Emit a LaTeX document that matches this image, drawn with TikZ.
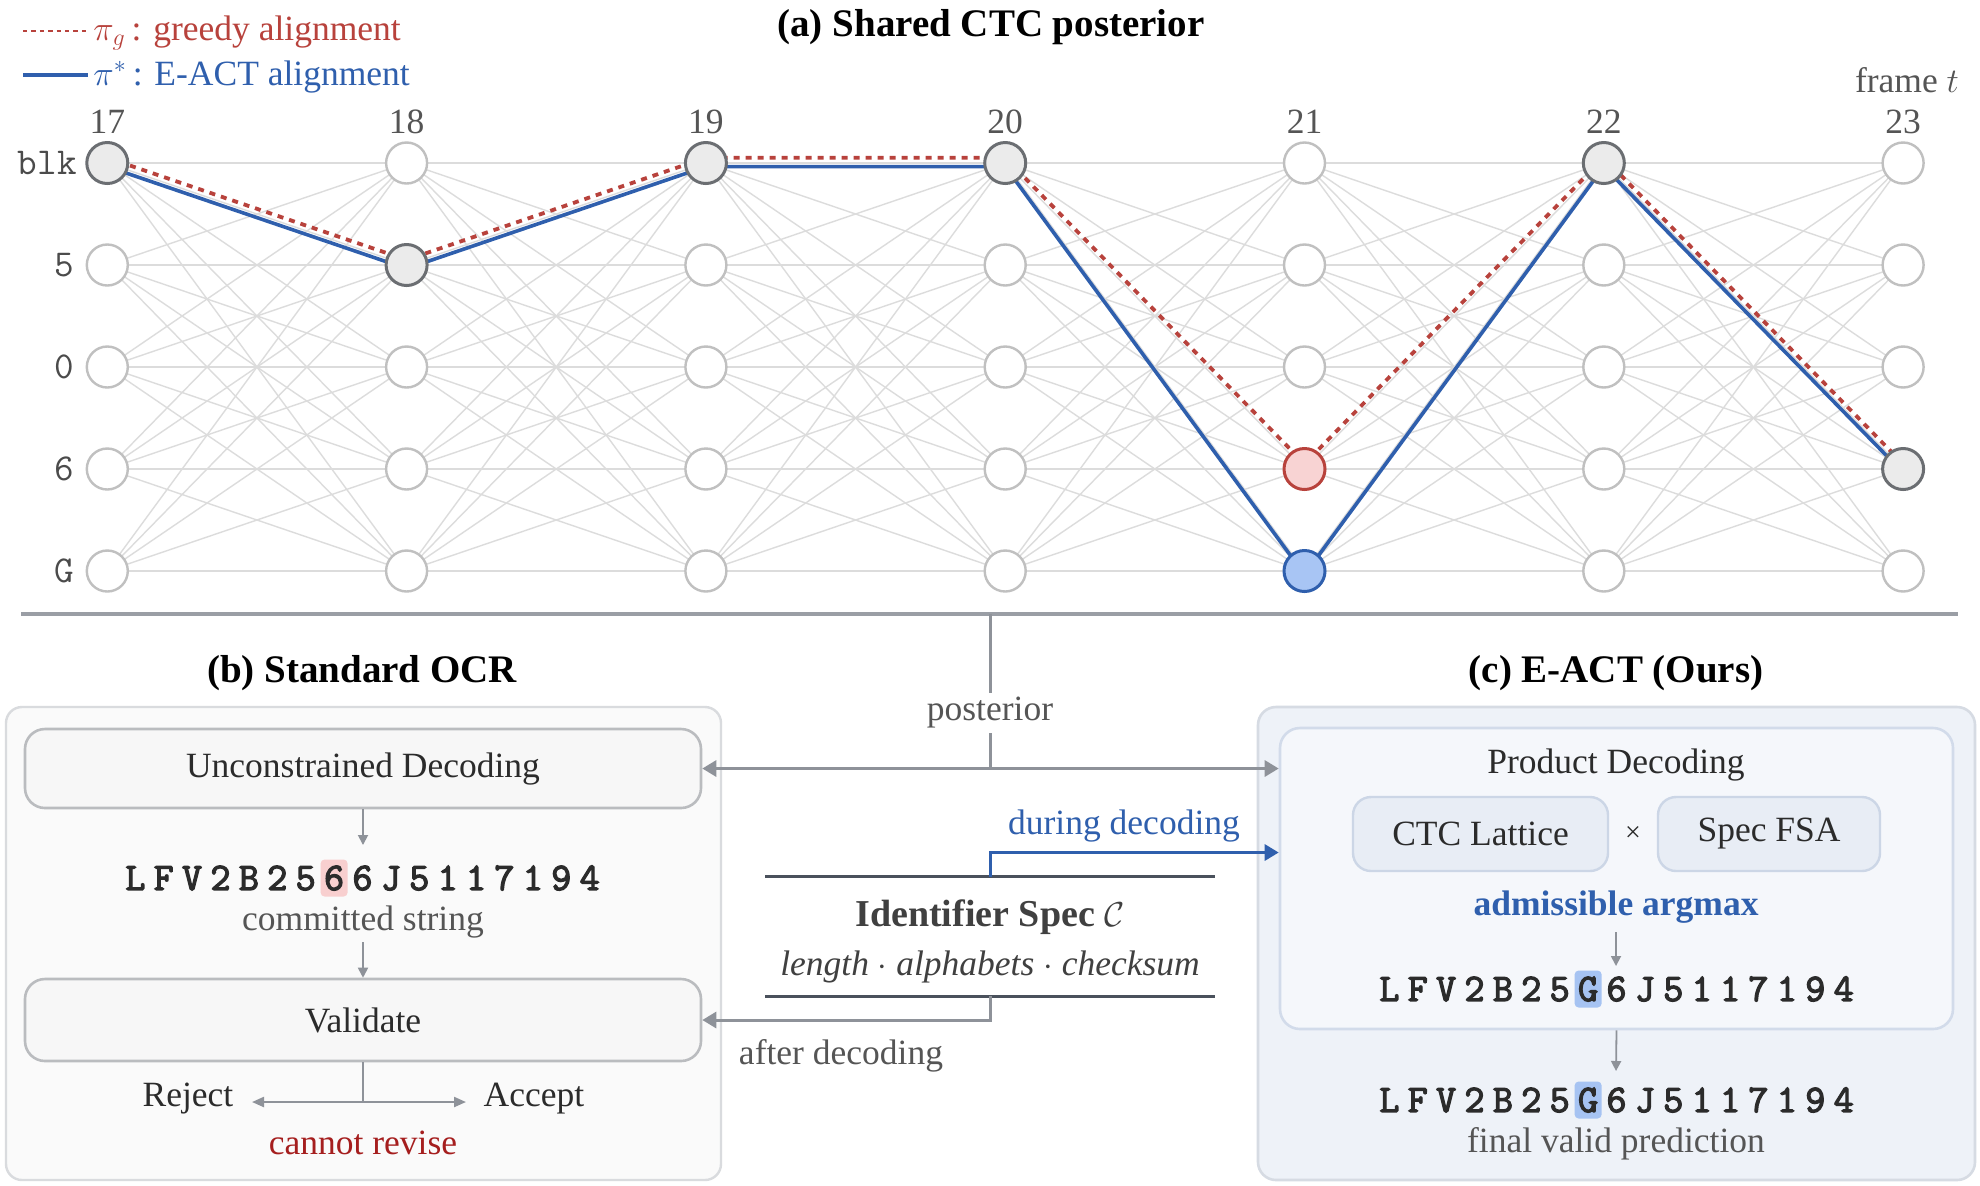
\documentclass[tikz,border=0pt]{standalone}
\usepackage{fontspec}
\setmainfont{Liberation Serif}
\newfontfamily\cmonob{Latin Modern Mono}[FakeBold=3.2]
\usetikzlibrary{arrows.meta,calc}
\pgfdeclarelayer{bg}
\pgfdeclarelayer{edges}
\pgfdeclarelayer{paths}
\pgfsetlayers{bg,edges,paths,main}

\definecolor{gred}{HTML}{B8423C}
\definecolor{eblue}{HTML}{2F5FAD}
\definecolor{latgray}{HTML}{DCDCDC}
\definecolor{nodegray}{HTML}{C0C0C0}
\definecolor{visfill}{HTML}{EBEBEB}
\definecolor{visdraw}{HTML}{6B6E72}
\definecolor{redfill}{HTML}{F8D3D3}
\definecolor{bluefill}{HTML}{A8C5F4}
\definecolor{arrgray}{HTML}{8E9299}
\definecolor{sepgray}{HTML}{9A9EA5}
\definecolor{txtdark}{HTML}{2B2B2B}
\definecolor{txtgray}{HTML}{555555}
\definecolor{darkred}{HTML}{A51E1E}
\definecolor{specline}{HTML}{4A515C}
\definecolor{bpanelfill}{HTML}{FAFAFA}
\definecolor{bpaneldraw}{HTML}{D9DBDE}
\definecolor{bboxfill}{HTML}{F7F7F7}
\definecolor{bboxdraw}{HTML}{BABCBF}
\definecolor{cpanelfill}{HTML}{EEF2F8}
\definecolor{cpaneldraw}{HTML}{D6DBE3}
\definecolor{cinnerfill}{HTML}{F5F7FB}
\definecolor{cinnerdraw}{HTML}{D2DBEA}
\definecolor{csubfill}{HTML}{E8EDF5}
\definecolor{csubdraw}{HTML}{CCD6E6}
\definecolor{hlred}{HTML}{F8CFCF}
\definecolor{hlblue}{HTML}{A6C3F2}

\expandafter\def\csname vis-0-0\endcsname{visnode}
\expandafter\def\csname vis-1-1\endcsname{visnode}
\expandafter\def\csname vis-2-0\endcsname{visnode}
\expandafter\def\csname vis-3-0\endcsname{visnode}
\expandafter\def\csname vis-4-3\endcsname{rednode}
\expandafter\def\csname vis-4-4\endcsname{bluenode}
\expandafter\def\csname vis-5-0\endcsname{visnode}
\expandafter\def\csname vis-6-3\endcsname{visnode}

\newcommand{\mstr}[1]{\mstrloop#1\relax}
\def\mstrloop#1{\ifx#1\relax\else\makebox[14.2pt]{#1}\expandafter\mstrloop\fi}

\tikzset{
  txtfont/.style={font=\fontsize{17.75pt}{21pt}\selectfont, text=txtdark, inner sep=0pt},
  txt/.style={txtfont, yshift=-2pt},
  head/.style={font=\fontsize{19.5pt}{23pt}\selectfont\bfseries, text=black, inner sep=0pt, yshift=-2pt},
  mono/.style={font=\fontsize{19.5pt}{21pt}\selectfont\cmonob, text=txtdark, inner sep=0pt},
  rowlab/.style={font=\fontsize{19pt}{21pt}\selectfont\ttfamily, text=txtdark!85, inner sep=0pt},
  collab/.style={font=\fontsize{17.75pt}{21pt}\selectfont, text=txtgray, inner sep=0pt, yshift=-1pt},
  latnode/.style={circle, minimum size=20.5pt, inner sep=0pt, draw=nodegray, line width=1.2pt, fill=white},
  visnode/.style={latnode, draw=visdraw, fill=visfill, line width=1.5pt},
  rednode/.style={latnode, draw=gred, fill=redfill, line width=1.5pt},
  bluenode/.style={latnode, draw=eblue, fill=bluefill, line width=1.5pt},
  latedge/.style={draw=latgray, line width=0.7pt},
  greedy/.style={draw=gred, line width=1.9pt, dash pattern=on 3pt off 3pt},
  eact/.style={draw=eblue, line width=1.8pt, line join=round},
  sepline/.style={draw=sepgray, line width=2pt},
  bpanel/.style={draw=bpaneldraw, fill=bpanelfill, line width=1.2pt, rounded corners=8pt},
  bbox/.style={txtfont, draw=bboxdraw, fill=bboxfill, line width=1.3pt, rounded corners=10pt},
  cpanel/.style={draw=cpaneldraw, fill=cpanelfill, line width=1.3pt, rounded corners=9pt},
  cinner/.style={draw=cinnerdraw, fill=cinnerfill, line width=1.3pt, rounded corners=10pt},
  csub/.style={txtfont, draw=csubdraw, fill=csubfill, line width=1.2pt, rounded corners=9pt},
  hlbox/.style={minimum width=13.5pt, minimum height=18.5pt, inner sep=0pt, rounded corners=2pt},
  conn/.style={draw=arrgray, line width=1.5pt},
  bigtip/.style={-{Triangle[length=7pt,width=8pt]}},
  bluearr/.style={draw=eblue, line width=1.5pt, -{Triangle[length=7pt,width=8pt]}},
  smallarr/.style={draw=arrgray, line width=0.9pt, -{Triangle[length=5pt,width=5pt]}},
  smallln/.style={draw=arrgray, line width=1.1pt},
  smallarrb/.style={draw=arrgray, line width=1.1pt, -{Triangle[length=6pt,width=5pt]}},
  specln/.style={draw=specline, line width=1.5pt},
}

\begin{document}
\begin{tikzpicture}[x=0.5pt,y=-0.5pt]
\begin{pgfonlayer}{bg}
\fill[white] (0,0) rectangle (1980,1185);
\end{pgfonlayer}
\path[use as bounding box] (0,0) rectangle (1980,1185);

% ---------- (a) lattice ----------
\node[head] (ta) at (991,23) {(a) Shared CTC posterior};

\coordinate (lg1a) at (23,31); \coordinate (lg1b) at (88,31);
\coordinate (lg2a) at (23,75); \coordinate (lg2b) at (88,75);
\draw[draw=gred, line width=1.4pt, dash pattern=on 2.2pt off 2pt] (lg1a) -- (lg1b);
\draw[draw=eblue, line width=1.6pt] (lg2a) -- (lg2b);
\node[txt, text=gred, anchor=west] (lgt1) at (93,29) {$\pi_g$\,: greedy alignment};
\node[txt, text=eblue, anchor=west] (lgt2) at (93,73) {$\pi^*$\,: E-ACT alignment};

\node[collab] (frame) at (1907,78) {frame $t$};

\foreach \i in {0,...,6}{
  \foreach \j in {0,...,4}{
    \ifcsname vis-\i-\j\endcsname \edef\st{\csname vis-\i-\j\endcsname}\else \def\st{latnode}\fi
    \node[\st] (n\i\j) at ({107.3+299.3*\i},{163+102*\j}) {};
  }
}
\foreach \i/\t in {0/17,1/18,2/19,3/20,4/21,5/22,6/23}{
  \node[collab] (col\i) at ({107.3+299.3*\i},120) {\t};
}
\node[rowlab, anchor=east] (rblk) at (77,163) {blk};
\node[rowlab] (r5) at (64,265) {5};
\node[rowlab] (r0) at (64,367) {0};
\node[rowlab] (r6) at (64,469) {6};
\node[rowlab] (rG) at (64,571) {G};

\begin{pgfonlayer}{edges}
\foreach \i in {0,...,5}{
  \pgfmathtruncatemacro{\ii}{\i+1}
  \foreach \j in {0,...,4}{
    \foreach \k in {0,...,4}{
      \draw[latedge] (n\i\j.center) -- (n\ii\k.center);
    }
  }
}
\end{pgfonlayer}

\begin{pgfonlayer}{paths}
\draw[eact] ([yshift=-1.8pt]n00.center) -- ([yshift=-1.8pt]n11.center) -- ([yshift=-1.8pt]n20.center) -- ([yshift=-1.8pt]n30.center) -- ([yshift=-1.8pt]n44.center) -- ([yshift=-1.8pt]n50.center) -- ([yshift=-1.8pt]n63.center);
\draw[greedy] ([yshift=2.6pt]n00.center) -- ([yshift=2.6pt]n11.center) -- ([yshift=2.6pt]n20.center) -- ([yshift=2.6pt]n30.center) -- ([yshift=2.6pt]n43.center) -- ([yshift=2.6pt]n50.center) -- ([yshift=2.6pt]n63.center);
\end{pgfonlayer}

\coordinate (sepL) at (21,614);
\coordinate (sepR) at (1958,614);
\draw[sepline] (sepL) -- (sepR);

% ---------- panels ----------
\node[head] (tb) at (362,669) {(b) Standard OCR};
\node[head] (tc) at (1616,669) {(c) E-ACT (Ours)};

\node[bpanel, minimum width=357.5pt, minimum height=236.5pt] (bpan) at (363.5,943.5) {};
\node[cpanel, minimum width=358.5pt, minimum height=236.5pt] (cpan) at (1616.5,943.5) {};

% (b)
\node[bbox, minimum width=338pt, minimum height=39.5pt] (ubox) at (363,768.5) {Unconstrained Decoding};
\node[bbox, minimum width=338pt, minimum height=41pt] (vbox) at (363,1020) {Validate};
\coordinate (a1e) at (363,845);
\draw[smallarr] (ubox.south) -- (a1e);
\node[hlbox, fill=hlred] (bhl) at (334.1,878) {};
\node[mono] (bstr) at (362.5,878) {\mstr{LFV2B2566J5117194}};
\node[txt, text=txtgray] (bcom) at (363,918) {committed string};
\coordinate (a2s) at (363,942);
\draw[smallarr] (a2s) -- (vbox.north);
\coordinate (vbr) at (363,1102);
\coordinate (rejtip) at (252,1102);
\coordinate (acctip) at (466,1102);
\draw[smallln] (vbox.south) -- (vbr);
\draw[smallarrb] (vbr) -- (rejtip);
\draw[smallarrb] (vbr) -- (acctip);
\node[txt] (rej) at (188,1095) {Reject};
\node[txt] (acc) at (534,1095) {Accept};
\node[txt, text=darkred] (cannot) at (363,1139) {cannot revise};

% (c)
\node[cinner, minimum width=336.5pt, minimum height=150.5pt] (inner) at (1616.5,878.5) {};
\node[txt] (prod) at (1616,761) {Product Decoding};
\node[csub, minimum width=127.5pt, minimum height=37pt] (ctc) at (1480.5,834) {CTC Lattice};
\node[txtfont, font=\fontsize{14pt}{16pt}\selectfont] (times) at (1633,834) {×};
\node[csub, minimum width=111pt, minimum height=37pt] (fsa) at (1769,834) {Spec FSA};
\node[txt, font=\fontsize{17.75pt}{21pt}\selectfont\bfseries, text=eblue] (adm) at (1616,903) {admissible argmax};
\coordinate (c1s) at (1616,932);
\coordinate (c1e) at (1616,966);
\draw[smallarr] (c1s) -- (c1e);
\node[hlbox, fill=hlblue] (chl1) at (1588.1,989) {};
\node[mono] (cstr1) at (1616.5,989) {\mstr{LFV2B25G6J5117194}};
\coordinate (c2e) at (1616,1071);
\draw[smallarr] (inner.south) -- (c2e);
\node[hlbox, fill=hlblue] (chl2) at (1588.1,1100) {};
\node[mono] (cstr2) at (1616.5,1100) {\mstr{LFV2B25G6J5117194}};
\node[txt, text=txtgray] (final) at (1616,1140) {final valid prediction};

% ---------- middle ----------
\coordinate (postTop) at (990,614);
\draw[conn] (postTop) -- (postTop |- ubox.east);
\node[txt, text=txtgray, fill=white, inner sep=2pt] (post) at (990,709) {posterior};
\draw[conn, {Triangle[length=7pt,width=8pt]}-{Triangle[length=7pt,width=8pt]}] (ubox.east) -- (ubox.east -| inner.west);

\coordinate (specTL) at (765,876.5);
\coordinate (specTR) at (1215,876.5);
\coordinate (specBL) at (765,996);
\coordinate (specBR) at (1215,996);
\draw[specln] (specTL) -- (specTR);
\draw[specln] (specBL) -- (specBR);
\node[txt, font=\fontsize{19pt}{22pt}\selectfont\bfseries, text=txtdark!90] (spec) at (990,913) {Identifier Spec $\mathcal{C}$};
\node[txt, font=\fontsize{17.75pt}{21pt}\selectfont\itshape, text=txtdark!90] (specsub) at (990,963) {length $\cdot$ alphabets $\cdot$ checksum};

\coordinate (specTM) at (990,876.5);
\coordinate (ddk) at (990,852.5);
\draw[bluearr] (specTM) -- (ddk) -- (ddk -| inner.west);
\node[txt, text=eblue] (ddlab) at (1124,822) {during decoding};

\coordinate (specBM) at (990,996);
\draw[conn, bigtip] (specBM) |- (vbox.east);
\node[txt, text=txtgray] (adlab) at (841,1052) {after decoding};
\end{tikzpicture}
\end{document}
